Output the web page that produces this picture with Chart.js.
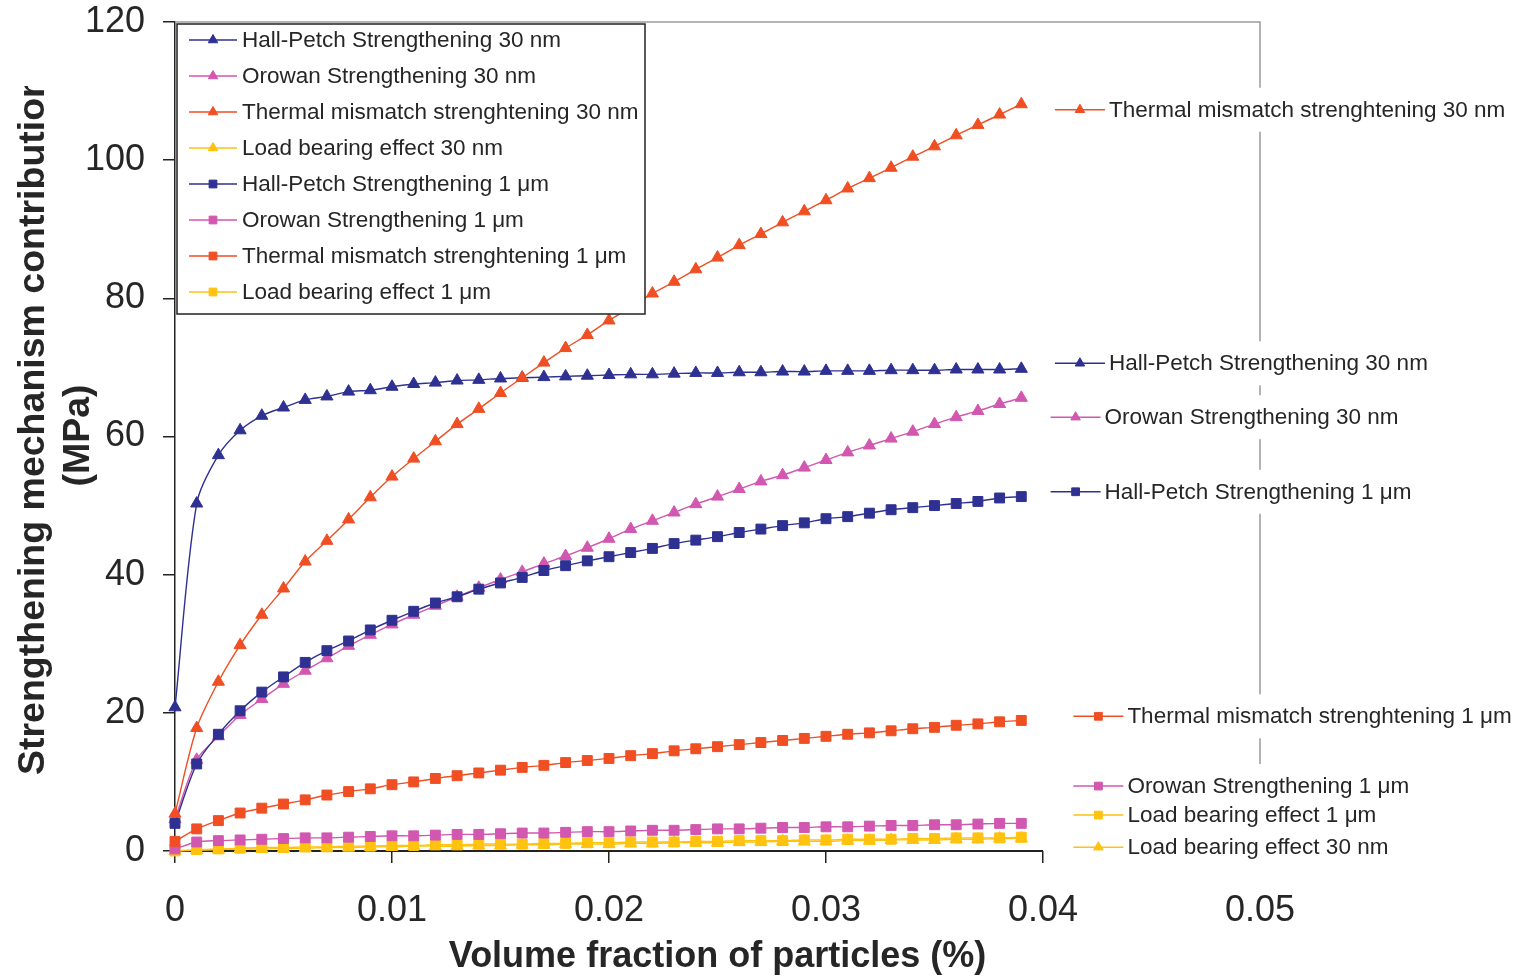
<!DOCTYPE html>
<html><head><meta charset="utf-8">
<script src="https://cdn.jsdelivr.net/npm/chart.js@4.4.1/dist/chart.umd.min.js"></script>
<style>html,body{margin:0;padding:0;background:#fff}#wrap{width:1515px;height:979px;position:relative}</style>
</head><body><div id="wrap"><canvas id="c"></canvas></div>
<script>
// ---------- DATA ----------
const volumeFraction = [0, 0.001, 0.002, 0.003, 0.004, 0.005, 0.006, 0.007, 0.008, 0.009,
  0.010, 0.011, 0.012, 0.013, 0.014, 0.015, 0.016, 0.017, 0.018, 0.019,
  0.020, 0.021, 0.022, 0.023, 0.024, 0.025, 0.026, 0.027, 0.028, 0.029,
  0.030, 0.031, 0.032, 0.033, 0.034, 0.035, 0.036, 0.037, 0.038, 0.039];

const hallPetch30nm = [20.8, 50.3, 57.3, 60.9, 63.0, 64.2, 65.3, 65.8, 66.5, 66.7,
  67.2, 67.6, 67.8, 68.1, 68.2, 68.4, 68.5, 68.6, 68.7, 68.8,
  68.9, 69.0, 69.0, 69.1, 69.2, 69.2, 69.3, 69.3, 69.4, 69.4,
  69.5, 69.5, 69.5, 69.6, 69.6, 69.6, 69.7, 69.7, 69.7, 69.8];
const orowan30nm = [4.6, 13.2, 16.6, 19.7, 22.0, 24.2, 26.1, 27.9, 29.7, 31.3,
  32.8, 34.2, 35.5, 36.8, 38.1, 39.3, 40.4, 41.6, 42.7, 43.9,
  45.2, 46.6, 47.8, 49.0, 50.2, 51.3, 52.4, 53.5, 54.4, 55.5,
  56.6, 57.7, 58.7, 59.7, 60.7, 61.8, 62.8, 63.7, 64.7, 65.6];
const thermal30nm = [5.4, 17.8, 24.5, 29.8, 34.2, 38.0, 41.9, 44.9, 48.0, 51.2,
  54.2, 56.8, 59.3, 61.8, 64.0, 66.3, 68.5, 70.7, 72.8, 74.7,
  76.8, 78.7, 80.7, 82.4, 84.2, 85.9, 87.7, 89.3, 91.0, 92.6,
  94.2, 95.9, 97.4, 98.9, 100.5, 102.0, 103.6, 105.1, 106.6, 108.1];
const loadBearing30nm = [0.0, 0.1, 0.2, 0.3, 0.3, 0.4, 0.4, 0.5, 0.5, 0.6,
  0.6, 0.7, 0.7, 0.7, 0.8, 0.8, 0.9, 0.9, 1.0, 1.0,
  1.0, 1.1, 1.1, 1.2, 1.2, 1.2, 1.3, 1.3, 1.4, 1.4,
  1.4, 1.5, 1.5, 1.6, 1.6, 1.6, 1.7, 1.7, 1.8, 1.8];
const hallPetch1um = [4.0, 12.6, 16.9, 20.3, 23.0, 25.2, 27.3, 29.0, 30.4, 32.0,
  33.4, 34.7, 35.9, 36.8, 37.9, 38.8, 39.6, 40.6, 41.3, 42.0,
  42.6, 43.2, 43.8, 44.5, 45.0, 45.5, 46.1, 46.6, 47.1, 47.5,
  48.1, 48.4, 48.9, 49.4, 49.7, 50.0, 50.3, 50.6, 51.1, 51.3];
const orowan1um = [0.3, 1.3, 1.5, 1.6, 1.7, 1.8, 1.9, 1.9, 2.0, 2.1,
  2.2, 2.2, 2.3, 2.4, 2.4, 2.5, 2.6, 2.6, 2.7, 2.8,
  2.8, 2.9, 3.0, 3.0, 3.1, 3.2, 3.2, 3.3, 3.4, 3.4,
  3.5, 3.5, 3.6, 3.7, 3.7, 3.8, 3.8, 3.9, 4.0, 4.0];
const thermal1um = [1.4, 3.2, 4.4, 5.5, 6.2, 6.8, 7.4, 8.1, 8.6, 9.0,
  9.6, 10.0, 10.5, 10.9, 11.3, 11.7, 12.1, 12.4, 12.8, 13.1,
  13.4, 13.8, 14.1, 14.5, 14.8, 15.1, 15.4, 15.7, 16.0, 16.3,
  16.6, 16.9, 17.1, 17.4, 17.7, 17.9, 18.2, 18.4, 18.7, 18.9];
const loadBearing1um = [0.0, 0.2, 0.3, 0.4, 0.5, 0.5, 0.6, 0.6, 0.7, 0.7,
  0.8, 0.8, 0.9, 0.9, 1.0, 1.0, 1.0, 1.1, 1.1, 1.2,
  1.2, 1.3, 1.3, 1.3, 1.4, 1.4, 1.5, 1.5, 1.5, 1.6,
  1.6, 1.7, 1.7, 1.7, 1.8, 1.8, 1.9, 1.9, 1.9, 2.0];

const seriesNames = [
  'Hall-Petch Strengthening 30 nm',
  'Orowan Strengthening 30 nm',
  'Thermal mismatch strenghtening 30 nm',
  'Load bearing effect 30 nm',
  'Hall-Petch Strengthening 1 μm',
  'Orowan Strengthening 1 μm',
  'Thermal mismatch strenghtening 1 μm',
  'Load bearing effect 1 μm'
];
const seriesValues = [hallPetch30nm, orowan30nm, thermal30nm, loadBearing30nm,
  hallPetch1um, orowan1um, thermal1um, loadBearing1um];

const xTickLabels = ['0', '0.01', '0.02', '0.03', '0.04', '0.05'];
const yTickLabels = ['0', '20', '40', '60', '80', '100', '120'];
const xTitle = 'Volume fraction of particles (%)';
const yTitleLines = ['Strengthening mechanism contribution', '(MPa)'];

// ---------- STYLES / LAYOUT ----------
const NAVY = '#2E3192', PINK = '#D257B0', RED = '#F04E23', YEL = '#FFC20E';
const seriesColors = [NAVY, PINK, RED, YEL, NAVY, PINK, RED, YEL];
const seriesShapes = ['triangle', 'triangle', 'triangle', 'triangle', 'rect', 'rect', 'rect', 'rect'];
const seriesOrder = [3, 6, 2, 8, 4, 5, 1, 7]; // lower = drawn on top
// end-of-line labels: series index, anchor (data units) for sample line start and centre y
const endLabelSeries = [2, 0, 1, 4, 6, 5, 7, 3];
const endLabelY = [107.3, 70.6, 62.8, 52.0, 19.5, 9.4, 5.2, 0.55];
const endLabelX = [0.04055, 0.04055, 0.04035, 0.04035, 0.04140, 0.04140, 0.04140, 0.04140];

const FONT = '"Liberation Sans", Arial, sans-serif';
const TEXT = '#262626';

function drawMarker(ctx, shape, x, y, r, color) {
  ctx.save();
  ctx.fillStyle = color; ctx.strokeStyle = color; ctx.lineWidth = 1;
  Chart.helpers.drawPoint(ctx, {pointStyle: shape, radius: r, rotation: 0, borderWidth: 1}, x, y);
  ctx.restore();
}
function drawSample(ctx, i, x0, y, len, r) {
  ctx.save();
  ctx.strokeStyle = seriesColors[i]; ctx.lineWidth = 1.5;
  ctx.beginPath(); ctx.moveTo(x0, y); ctx.lineTo(x0 + len, y); ctx.stroke();
  ctx.restore();
  drawMarker(ctx, seriesShapes[i], x0 + len / 2, y, r, seriesColors[i]);
}

const framePlugin = {
  id: 'frame',
  beforeDatasetsDraw(chart) {
    const {ctx, chartArea: a, scales: {x, y}} = chart;
    ctx.save();
    ctx.strokeStyle = '#9a9a9a'; ctx.lineWidth = 1.5;
    ctx.beginPath();
    ctx.moveTo(a.left, a.top); ctx.lineTo(a.right, a.top); ctx.lineTo(a.right, a.bottom + 14);
    ctx.stroke();
    ctx.strokeStyle = '#222'; ctx.lineWidth = 2;
    ctx.beginPath();
    ctx.moveTo(x.getPixelForValue(0), a.bottom);
    ctx.lineTo(x.getPixelForValue(0.04), a.bottom);
    ctx.stroke();
    ctx.restore();
  },
  afterDatasetsDraw(chart) {
    const {ctx, chartArea: a, scales: {x, y}} = chart;
    // legend box
    const bx = a.left + 2, by = a.top + 2, bw = 468, bh = 290;
    ctx.save();
    ctx.fillStyle = '#fff'; ctx.fillRect(bx, by, bw, bh);
    ctx.strokeStyle = '#222'; ctx.lineWidth = 1.5; ctx.strokeRect(bx, by, bw, bh);
    ctx.font = '22.5px ' + FONT; ctx.fillStyle = TEXT; ctx.textBaseline = 'middle';
    for (let i = 0; i < seriesNames.length; i++) {
      const cy = by + 16 + i * 36;
      drawSample(ctx, i, bx + 12, cy, 48, 5.5);
      ctx.fillStyle = TEXT;
      ctx.fillText(seriesNames[i], bx + 65, cy + 1);
    }
    ctx.restore();
    // end labels: white backgrounds first, then samples and text
    ctx.save();
    ctx.font = '22.5px ' + FONT; ctx.textBaseline = 'middle';
    const pos = endLabelSeries.map((s, k) => ({
      s, px: x.getPixelForValue(endLabelX[k]), py: y.getPixelForValue(endLabelY[k]),
      tw: ctx.measureText(seriesNames[s]).width
    }));
    ctx.fillStyle = '#fff';
    pos.forEach(p => ctx.fillRect(p.px + 50, p.py - 22, p.tw + 12, 44));
    pos.forEach(p => {
      drawSample(ctx, p.s, p.px, p.py, 50, 5.5);
      ctx.fillStyle = TEXT;
      ctx.fillText(seriesNames[p.s], p.px + 54, p.py + 1);
    });
    ctx.restore();
    // y title (rotated, clipped at top as in the source figure)
    ctx.save();
    ctx.beginPath(); ctx.rect(0, 86, 160, 900); ctx.clip();
    ctx.font = 'bold 37.5px ' + FONT; ctx.fillStyle = TEXT;
    ctx.textAlign = 'center'; ctx.textBaseline = 'middle';
    const w1 = ctx.measureText(yTitleLines[0]).width;
    ctx.save();
    ctx.translate(34, a.bottom - 76 - w1 / 2); ctx.rotate(-Math.PI / 2);
    ctx.fillText(yTitleLines[0], 0, 0);
    ctx.restore();
    ctx.save();
    ctx.translate(79, (a.top + a.bottom) / 2 - 1); ctx.rotate(-Math.PI / 2);
    ctx.fillText(yTitleLines[1], 0, 0);
    ctx.restore();
    ctx.restore();
  }
};

const datasets = seriesValues.map((vals, i) => ({
  label: seriesNames[i],
  data: vals.map((v, j) => ({x: volumeFraction[j], y: v})),
  borderColor: seriesColors[i],
  backgroundColor: seriesColors[i],
  pointBackgroundColor: seriesColors[i],
  pointBorderColor: seriesColors[i],
  pointStyle: seriesShapes[i],
  pointRadius: 7,
  pointBorderWidth: 1,
  borderWidth: 1.4,
  tension: 0.3,
  clip: false,
  order: seriesOrder[i]
}));

new Chart(document.getElementById('c'), {
  type: 'line',
  data: {datasets},
  plugins: [framePlugin],
  options: {
    responsive: true, maintainAspectRatio: false, animation: false,
    layout: {padding: {top: 0, right: 255, left: 0, bottom: 0}},
    plugins: {legend: {display: false}, tooltip: {enabled: false}, title: {display: false}},
    scales: {
      x: {
        type: 'linear', min: 0, max: 0.05,
        afterFit: s => { s.height = 128; s.paddingLeft = 0; s.paddingRight = 0; },
        border: {display: false},
        grid: {drawOnChartArea: false, drawTicks: true, tickLength: 12, lineWidth: 1.5,
          color: c => (c.tick && c.tick.value > 0.045) ? 'rgba(0,0,0,0)' : '#222'},
        ticks: {stepSize: 0.01, autoSkip: false, maxRotation: 0, padding: 26,
          color: TEXT, font: {family: FONT, size: 36},
          callback: (v, i) => xTickLabels[i]},
        title: {display: true, text: xTitle, color: TEXT, font: {family: FONT, size: 36, weight: 'bold'},
          padding: {top: 7, bottom: 0}}
      },
      y: {
        type: 'linear', min: 0, max: 120,
        afterFit: s => { s.width = 175; s.paddingTop = 22; s.paddingBottom = 0; },
        border: {display: true, color: '#222', width: 1.5},
        grid: {drawOnChartArea: false, drawTicks: true, tickLength: 12, lineWidth: 1.5, color: '#222'},
        ticks: {stepSize: 20, padding: 18, color: TEXT, font: {family: FONT, size: 36},
          callback: (v, i) => yTickLabels[i]}
      }
    }
  }
});
</script>
</body></html>
